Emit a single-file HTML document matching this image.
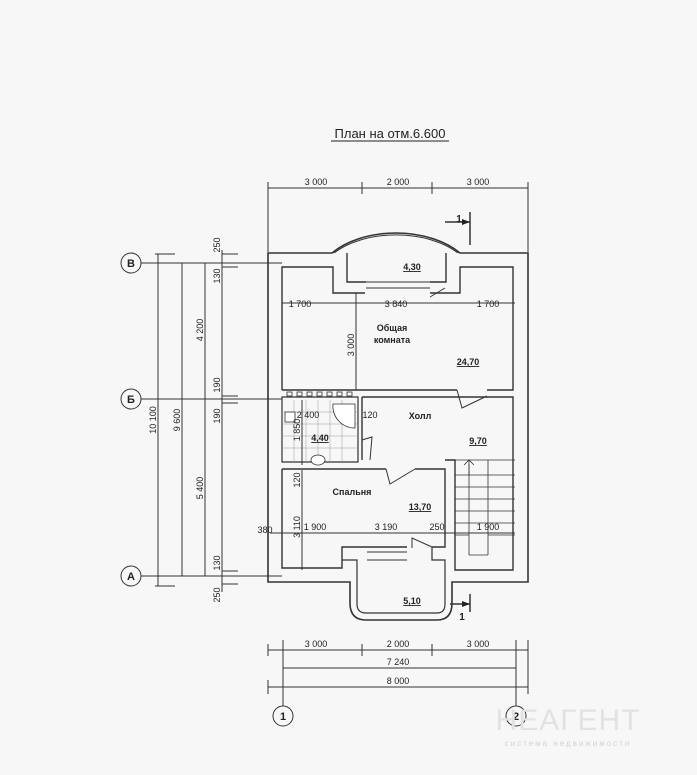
<!DOCTYPE html>
<html><head><meta charset="utf-8"><style>
body{margin:0;background:#f7f7f7}
svg{display:block}
text{font-family:"Liberation Sans",sans-serif;fill:#222}
</style></head><body>
<svg width="697" height="775" viewBox="0 0 697 775" xmlns="http://www.w3.org/2000/svg">
<rect width="697" height="775" fill="#f7f7f7"/>
<text x="390" y="138" font-size="13" text-anchor="middle">План на отм.6.600</text>
<line x1="331" y1="141" x2="449" y2="141" stroke="#222" stroke-width="1"/>

<g stroke="#333" stroke-width="1" fill="none">
<line x1="268" y1="188" x2="528" y2="188"/>
<line x1="268" y1="182" x2="268" y2="252"/><line x1="362" y1="182" x2="362" y2="194"/><line x1="432" y1="182" x2="432" y2="194"/><line x1="528" y1="182" x2="528" y2="252"/>
<line x1="268" y1="650" x2="528" y2="650"/><line x1="283" y1="668" x2="516" y2="668"/><line x1="268" y1="687" x2="528" y2="687"/>
<line x1="283" y1="640" x2="283" y2="706"/><line x1="516" y1="640" x2="516" y2="706"/>
<line x1="268" y1="680" x2="268" y2="694"/><line x1="528" y1="640" x2="528" y2="694"/>
<line x1="362" y1="644" x2="362" y2="656"/><line x1="432" y1="644" x2="432" y2="656"/><line x1="268" y1="644" x2="268" y2="656"/>
<circle cx="283" cy="716" r="10"/><circle cx="516" cy="716" r="10"/>
<circle cx="131" cy="263" r="10"/><circle cx="131" cy="399" r="10"/><circle cx="131" cy="576" r="10"/>
<line x1="141" y1="263" x2="282" y2="263"/><line x1="141" y1="399" x2="282" y2="399"/><line x1="141" y1="576" x2="282" y2="576"/>
<line x1="158" y1="254" x2="158" y2="586"/><line x1="182" y1="263" x2="182" y2="576"/><line x1="205" y1="263" x2="205" y2="576"/><line x1="222" y1="250" x2="222" y2="592"/>
<line x1="155" y1="254" x2="175" y2="254"/><line x1="155" y1="586" x2="175" y2="586"/>
<line x1="222" y1="254" x2="238" y2="254"/><line x1="222" y1="267" x2="238" y2="267"/>
<line x1="222" y1="396" x2="238" y2="396"/><line x1="222" y1="403" x2="238" y2="403"/>
<line x1="222" y1="571" x2="238" y2="571"/><line x1="222" y1="584" x2="238" y2="584"/>
<path d="M268 253 H332 A80 50 0 0 1 460 253 H528 V582 H452 V603 Q452 620 437 620 H366 Q350 620 350 603 V582 H268 Z" stroke-width="1.6"/>
<path d="M334 253 A78 46 0 0 1 458 253" />
<path d="M282 390 V267 H333 V293 H365 M430 293 H460 V267 H513 V390 H487 M457 390 H282" stroke-width="1.4"/>
<path d="M347 253 V282 H366 M446 253 V282 H430" stroke-width="1.4"/>
<line x1="366" y1="282" x2="430" y2="282"/><line x1="366" y1="288" x2="430" y2="288"/>
<path d="M457 390 L462 408 L487 396"/>
<path d="M282 397 H358 V462 H282 Z" stroke-width="1.2"/>
<path d="M362 397 H513 V570 H455 V460 H445 M362 397 V460" stroke-width="1.4"/>
<path d="M362 440 L372 437 L370 460"/>
<!-- bedroom -->
<path d="M282 469 H386 M415 469 H445 V547 H432 M407 547 H367 M282 469 V568 H342 V547 H367" stroke-width="1.4"/>
<path d="M386 469 L390 484 L415 469"/>
<path d="M432 547 L412 538 V548"/>
<line x1="367" y1="552" x2="407" y2="552"/><line x1="367" y1="560" x2="407" y2="560"/>
<path d="M342 560 H357 V604 Q357 613 366 613 H437 Q445 613 445 604 V560 H432 V547" stroke-width="1.2"/>
<g stroke-width="0.8">
<line x1="455" y1="460" x2="515" y2="460"/>
<line x1="469" y1="460" x2="469" y2="555"/><line x1="488" y1="460" x2="488" y2="555"/><line x1="469" y1="555" x2="488" y2="555"/>
<line x1="455" y1="475" x2="515" y2="475"/><line x1="455" y1="487" x2="515" y2="487"/><line x1="455" y1="499" x2="515" y2="499"/>
<line x1="455" y1="511" x2="515" y2="511"/><line x1="455" y1="523" x2="515" y2="523"/><line x1="455" y1="535" x2="469" y2="535"/><line x1="488" y1="535" x2="515" y2="535"/>
<line x1="469" y1="464" x2="469" y2="475"/><path d="M464 465 L469 460 L474 465"/>
</g>
<g stroke="#999" stroke-width="0.5">
<line x1="282" y1="412" x2="358" y2="412"/><line x1="282" y1="424" x2="358" y2="424"/><line x1="282" y1="436" x2="358" y2="436"/><line x1="282" y1="448" x2="358" y2="448"/>
<line x1="294" y1="400" x2="294" y2="462"/><line x1="306" y1="400" x2="306" y2="462"/><line x1="318" y1="400" x2="318" y2="462"/><line x1="330" y1="400" x2="330" y2="462"/><line x1="342" y1="400" x2="342" y2="462"/>
</g>
<g stroke-width="0.8">
<rect x="287" y="392" width="5" height="4"/><rect x="297" y="392" width="5" height="4"/><rect x="307" y="392" width="5" height="4"/><rect x="317" y="392" width="5" height="4"/><rect x="327" y="392" width="5" height="4"/><rect x="337" y="392" width="5" height="4"/><rect x="347" y="392" width="5" height="4"/>
<path d="M333 404 H355 V428 A22 22 0 0 1 333 404 Z" fill="#fff"/>
<ellipse cx="318" cy="460" rx="7" ry="5" fill="#fff"/>
<rect x="285" y="412" width="10" height="10" fill="#fff"/>
</g>
<line x1="282" y1="303" x2="515" y2="303"/><line x1="356" y1="293" x2="356" y2="390"/>
<line x1="270" y1="533" x2="515" y2="533"/><line x1="302" y1="470" x2="302" y2="570"/>
<line x1="302" y1="400" x2="302" y2="465"/>
<line x1="430" y1="297" x2="445" y2="288"/>
<path d="M445 222 H470 M470 212 V245" stroke-width="1.5"/>
<path d="M450 604 H470 M470 594 V612" stroke-width="1.5"/>
</g>
<path d="M462 219 L470 222 L462 225 Z" fill="#222"/>
<path d="M462 601 L470 604 L462 607 Z" fill="#222"/>

<g font-size="9">
<text x="316" y="185" text-anchor="middle">3 000</text><text x="398" y="185" text-anchor="middle">2 000</text><text x="478" y="185" text-anchor="middle">3 000</text>
<text x="316" y="647" text-anchor="middle">3 000</text><text x="398" y="647" text-anchor="middle">2 000</text><text x="478" y="647" text-anchor="middle">3 000</text>
<text x="398" y="665" text-anchor="middle">7 240</text><text x="398" y="684" text-anchor="middle">8 000</text>
<text x="300" y="307" text-anchor="middle">1 700</text><text x="396" y="307" text-anchor="middle">3 840</text><text x="488" y="307" text-anchor="middle">1 700</text>
<text x="315" y="530" text-anchor="middle">1 900</text><text x="386" y="530" text-anchor="middle">3 190</text><text x="437" y="530" text-anchor="middle">250</text><text x="488" y="530" text-anchor="middle">1 900</text>
<text x="265" y="533" text-anchor="middle">380</text>
<text x="308" y="418" text-anchor="middle">2 400</text><text x="370" y="418" text-anchor="middle">120</text>
<text transform="translate(354,345) rotate(-90)" text-anchor="middle">3 000</text>
<text transform="translate(300,430) rotate(-90)" text-anchor="middle">1 850</text>
<text transform="translate(300,480) rotate(-90)" text-anchor="middle">120</text>
<text transform="translate(300,527) rotate(-90)" text-anchor="middle">3 110</text>
<text transform="translate(156,420) rotate(-90)" text-anchor="middle">10 100</text>
<text transform="translate(180,420) rotate(-90)" text-anchor="middle">9 600</text>
<text transform="translate(203,330) rotate(-90)" text-anchor="middle">4 200</text>
<text transform="translate(203,488) rotate(-90)" text-anchor="middle">5 400</text>
<text transform="translate(220,245) rotate(-90)" text-anchor="middle">250</text>
<text transform="translate(220,276) rotate(-90)" text-anchor="middle">130</text>
<text transform="translate(220,385) rotate(-90)" text-anchor="middle">190</text>
<text transform="translate(220,416) rotate(-90)" text-anchor="middle">190</text>
<text transform="translate(220,563) rotate(-90)" text-anchor="middle">130</text>
<text transform="translate(220,595) rotate(-90)" text-anchor="middle">250</text>
</g>
<g font-size="9" font-weight="bold">
<text x="412" y="270" text-anchor="middle" text-decoration="underline">4,30</text>
<text x="392" y="331" text-anchor="middle">Общая</text><text x="392" y="343" text-anchor="middle">комната</text>
<text x="468" y="365" text-anchor="middle" text-decoration="underline">24,70</text>
<text x="420" y="419" text-anchor="middle">Холл</text>
<text x="478" y="444" text-anchor="middle" text-decoration="underline">9,70</text>
<text x="320" y="441" text-anchor="middle" text-decoration="underline">4,40</text>
<text x="352" y="495" text-anchor="middle">Спальня</text>
<text x="420" y="510" text-anchor="middle" text-decoration="underline">13,70</text>
<text x="412" y="604" text-anchor="middle" text-decoration="underline">5,10</text>
<text x="459" y="222" text-anchor="middle" font-size="10">1</text>
<text x="462" y="620" text-anchor="middle" font-size="10">1</text>
</g>
<g font-size="11" font-weight="bold" text-anchor="middle">
<text x="131" y="267">В</text><text x="131" y="403">Б</text><text x="131" y="580">А</text>
<text x="283" y="720">1</text><text x="516" y="720">2</text>
</g>
<text x="568" y="730" font-size="30" style="fill:#e2e2e2" text-anchor="middle" letter-spacing="1">НЕАГЕНТ</text>
<text x="568" y="746" font-size="8" style="fill:#d2d2d2" text-anchor="middle" letter-spacing="2">система недвижимости</text>
</svg>
</body></html>
